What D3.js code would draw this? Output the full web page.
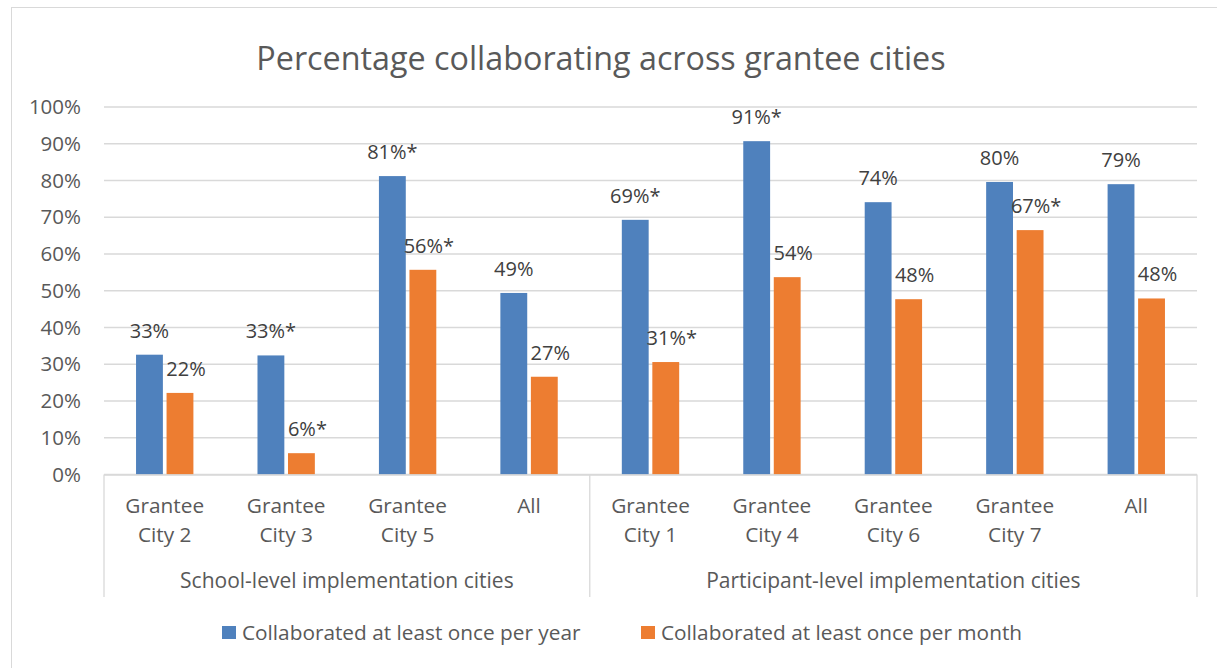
<!DOCTYPE html>
<html>
<head>
<meta charset="utf-8">
<script src="https://cdn.jsdelivr.net/npm/d3@7"></script>
<style>
  body { margin: 0; background: #fff; }
  text { font-family: "Open Sans", sans-serif; }
</style>
</head>
<body>
<svg></svg>
<script>
let width = 1217;
let height = 668;

// data
let categories = ['Grantee City 2', 'Grantee City 3', 'Grantee City 5', 'All',
                  'Grantee City 1', 'Grantee City 4', 'Grantee City 6', 'Grantee City 7', 'All'];
let groups = ['School-level implementation cities', 'Participant-level implementation cities'];
let groupSizes = [4, 5];
let seriesNames = ['Collaborated at least once per year', 'Collaborated at least once per month'];
let yearly = [32.6, 32.4, 81.2, 49.4, 69.3, 90.7, 74.1, 79.6, 79.0];
let monthly = [22.2, 5.8, 55.7, 26.6, 30.6, 53.7, 47.7, 66.5, 47.9];
let yearlyLabels = ['33%', '33%*', '81%*', '49%', '69%*', '91%*', '74%', '80%', '79%'];
let monthlyLabels = ['22%', '6%*', '56%*', '27%', '31%*', '54%', '48%', '67%*', '48%'];
let yTicks = [0, 10, 20, 30, 40, 50, 60, 70, 80, 90, 100];

let colors = ['#4f81bd', '#ed7d31'];

let plotLeft = 104;
let plotRight = 1197;
let plotTop = 107;
let plotBottom = 474.5;

let svg = d3.select('svg')
  .attr('width', width)
  .attr('height', height);

// outer chart border
svg.append('rect')
  .attr('x', 11.5).attr('y', 7.5)
  .attr('width', width + 20).attr('height', height + 20)
  .attr('fill', 'none')
  .attr('stroke', '#d9d9d9');

let x = d3.scaleBand()
  .domain(d3.range(categories.length))
  .range([plotLeft, plotRight]);

let xInner = d3.scaleBand()
  .domain([0, 1])
  .range([0, x.bandwidth()])
  .paddingInner(0.12)
  .paddingOuter(1.05);

let y = d3.scaleLinear()
  .domain([0, 100])
  .range([plotBottom, plotTop]);

// gridlines
svg.append('g')
  .selectAll('line')
  .data(yTicks)
  .enter()
  .append('line')
    .attr('x1', plotLeft).attr('x2', plotRight)
    .attr('y1', d => y(d)).attr('y2', d => y(d))
    .attr('stroke', '#d9d9d9')
    .attr('stroke-width', 1.3);

// y axis labels
svg.append('g')
  .selectAll('text')
  .data(yTicks)
  .enter()
  .append('text')
    .attr('x', 81)
    .attr('y', d => y(d))
    .attr('dy', '0.35em')
    .attr('text-anchor', 'end')
    .attr('fill', '#595959')
    .style('font-size', '20.5px')
    .text(d => d + '%');

// bars
let series = [yearly, monthly];
let labels = [yearlyLabels, monthlyLabels];

series.forEach((vals, s) => {
  let g = svg.append('g');
  g.selectAll('rect')
    .data(vals)
    .enter()
    .append('rect')
      .attr('x', (d, i) => x(i) + xInner(s))
      .attr('width', xInner.bandwidth())
      .attr('y', d => y(d))
      .attr('height', d => plotBottom - y(d))
      .attr('fill', colors[s]);

  g.selectAll('text')
    .data(vals)
    .enter()
    .append('text')
      .attr('x', (d, i) => x(i) + xInner(s) + xInner.bandwidth() / 2 + (s === 1 ? 6 : 0))
      .attr('y', d => y(d) - 17)
      .attr('text-anchor', 'middle')
      .attr('fill', '#404040')
      .style('font-size', '20px')
      .text((d, i) => labels[s][i]);
});

// category axis
let axisG = svg.append('g');
axisG.append('line')
  .attr('x1', plotLeft).attr('x2', plotRight)
  .attr('y1', plotBottom + 0.5).attr('y2', plotBottom + 0.5)
  .attr('stroke', '#d9d9d9')
  .attr('stroke-width', 1.3);

// separators between groups
let bounds = [0];
groupSizes.forEach(n => bounds.push(bounds[bounds.length - 1] + n));
let edgeX = b => b < categories.length ? x(b) : plotRight;

axisG.selectAll('.sep')
  .data(bounds)
  .enter()
  .append('line')
    .attr('x1', edgeX)
    .attr('x2', edgeX)
    .attr('y1', plotBottom)
    .attr('y2', 597)
    .attr('stroke', '#d9d9d9')
    .attr('stroke-width', 1.3);

// category labels (wrapped in two lines)
axisG.selectAll('.cat')
  .data(categories)
  .enter()
  .append('text')
    .attr('text-anchor', 'middle')
    .attr('fill', '#595959')
    .style('font-size', '20.8px')
    .each(function(d, i) {
      let t = d3.select(this);
      let cx = x(i) + x.bandwidth() / 2;
      let lines = d === 'All' ? ['All'] : [d.split(' ')[0], d.split(' ').slice(1).join(' ')];
      lines.forEach((ln, k) => {
        t.append('tspan')
          .attr('x', cx)
          .attr('y', 513 + k * 29)
          .text(ln);
      });
    });

// group labels
axisG.selectAll('.grp')
  .data(groups)
  .enter()
  .append('text')
    .attr('x', (d, i) => (edgeX(bounds[i]) + edgeX(bounds[i + 1])) / 2)
    .attr('y', 588)
    .attr('text-anchor', 'middle')
    .attr('fill', '#595959')
    .style('font-size', '21px')
    .text(d => d);

// title
svg.append('text')
  .attr('x', 601)
  .attr('y', 70)
  .attr('text-anchor', 'middle')
  .attr('fill', '#595959')
  .style('font-size', '32.3px')
  .text('Percentage collaborating across grantee cities');

// legend
let legendX = [222, 641];
let legend = svg.append('g')
  .selectAll('g')
  .data(seriesNames)
  .enter()
  .append('g')
    .attr('transform', (d, i) => `translate(${legendX[i]}, 626)`);

legend.append('rect')
  .attr('width', 14)
  .attr('height', 13)
  .attr('fill', (d, i) => colors[i]);

legend.append('text')
  .attr('x', 20)
  .attr('y', 6.5)
  .attr('dy', '0.35em')
  .attr('fill', '#595959')
  .style('font-size', '20.8px')
  .text(d => d);
</script>
</body>
</html>
